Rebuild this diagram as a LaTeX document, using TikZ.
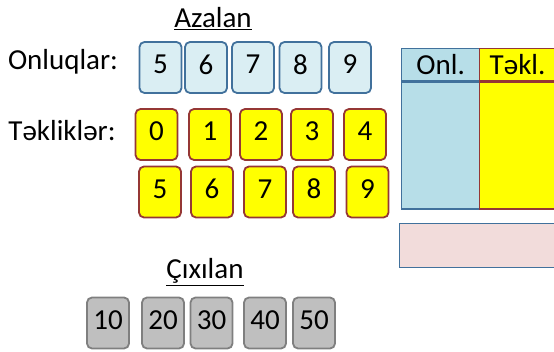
\documentclass[tikz,border=0pt]{standalone}
\usepackage{fontspec}
\setmainfont{Carlito}

\definecolor{onlfill}{HTML}{DAEEF3}
\definecolor{onlline}{HTML}{41719C}
\definecolor{tekfill}{HTML}{FFFF00}
\definecolor{tekline}{HTML}{953735}
\definecolor{cixfill}{HTML}{BFBFBF}
\definecolor{cixline}{HTML}{7F7F7F}
\definecolor{colfill}{HTML}{B7DEE8}
\definecolor{resfill}{HTML}{F2DCDB}

\begin{document}
\begin{tikzpicture}[x=1pt, y=-1pt, font=\fontsize{29}{31}\selectfont]
    % Define styles
    \tikzstyle{card} = [rectangle, rounded corners=5pt, line width=1.8pt, minimum width=42pt, minimum height=51pt, inner sep=0pt, text depth=6pt]
    \tikzstyle{onlcard} = [card, draw=onlline, fill=onlfill]
    \tikzstyle{tekcard} = [card, draw=tekline, fill=tekfill]
    \tikzstyle{cixcard} = [card, draw=cixline, fill=cixfill]
    \tikzstyle{cell} = [rectangle, line width=1.4pt, inner sep=0pt, anchor=north west]

    \useasboundingbox (0,0) rectangle (554,352);
    \clip (0,0) rectangle (554,352);

    % Headings
    \node (azalan) at (213,19) {\underline{Azalan}};
    \node (onlabel) at (63,62) {Onluqlar:};
    \node (teklabel) at (62,131) {Təkliklər:};
    \node (cixilan) at (205,272) {\underline{Çıxılan}};

    % Cards
    \foreach \x [count=\i from 5] in {160.5,206,253,300.5,350}
        \node [onlcard] (onl\i) at (\x,67.5) {\i};
    \foreach \x [count=\i from 0] in {156.5,210,261,312,365}
        \node [tekcard] (tek\i) at (\x,134.5) {\i};
    \foreach \x [count=\i from 5] in {160,212,265,314,367.5}
        \node [tekcard] (tek\i) at (\x,192) {\i};
    \foreach \x [count=\i] in {108,163,211.5,265,314}
        \node [cixcard] (cix\i) at (\x,323) {\i0};

    % Table on the right
    \node [cell, draw=onlline, fill=colfill, minimum width=78pt, minimum height=32pt] (onlhead) at (401,48) {Onl.};
    \node [cell, draw=onlline, fill=colfill, minimum width=78pt, minimum height=127pt] (onlbody) at (onlhead.south west) {};
    \node [cell, draw=tekline, fill=tekfill, minimum height=32pt, text width=110pt, align=left, inner xsep=10pt] (tekhead) at (479,48) {Təkl.};
    \node [cell, draw=tekline, fill=tekfill, minimum width=132pt, minimum height=127pt] (tekbody) at (tekhead.south west) {};
    \node [cell, draw=onlline, fill=resfill, minimum width=200pt, minimum height=44pt] (result) at (399,223) {};
\end{tikzpicture}
\end{document}
